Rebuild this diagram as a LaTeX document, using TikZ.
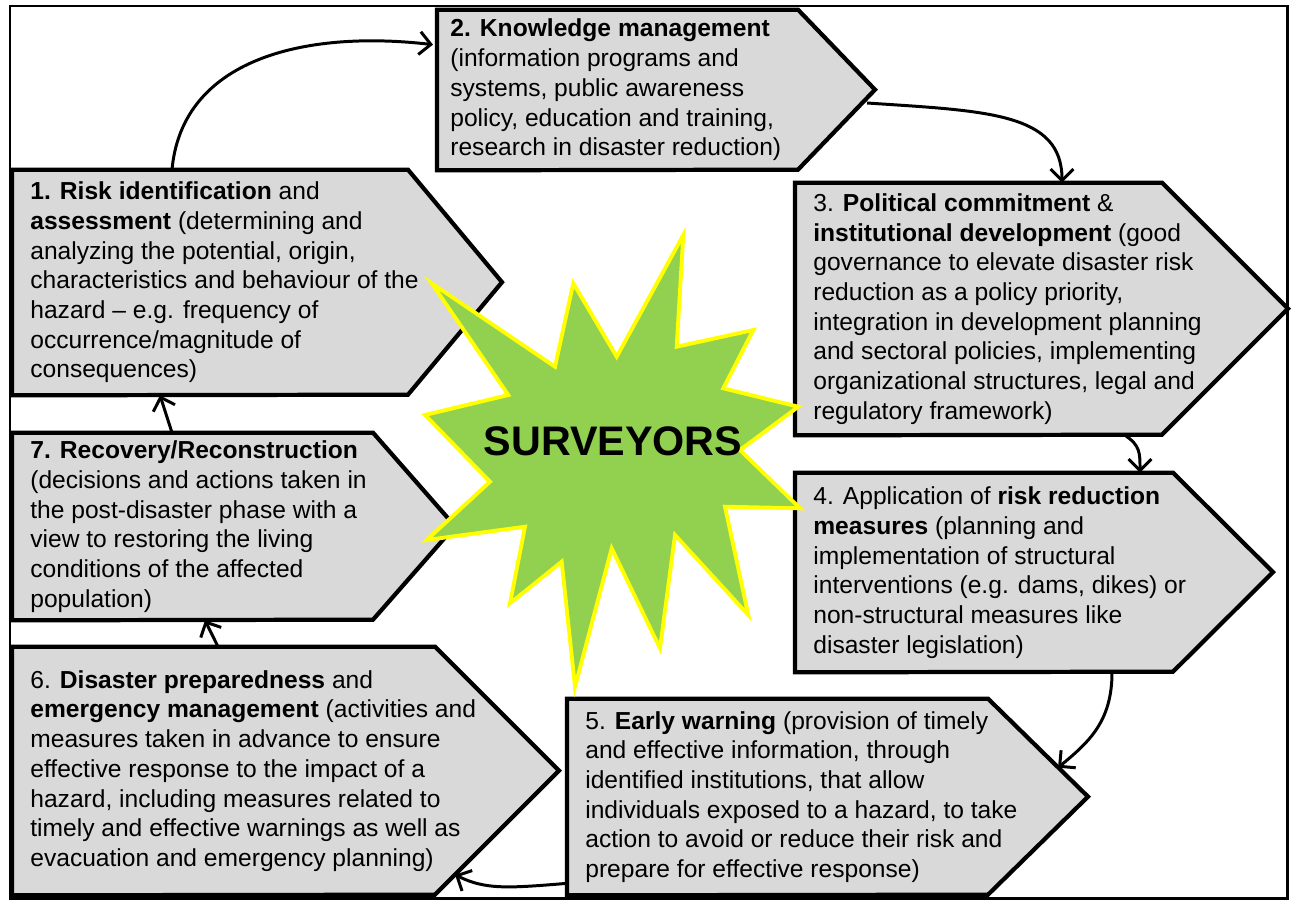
\documentclass[tikz,border=0pt]{standalone}
\usepackage{fontspec}
\setmainfont{Liberation Sans}
\usepackage{tikz}
\usetikzlibrary{arrows.meta,backgrounds,calc,positioning}
\definecolor{boxgray}{RGB}{217,217,217}
\definecolor{stargreen}{RGB}{146,208,80}
\definecolor{staryellow}{RGB}{255,255,0}
\tikzset{
  phase/.style={anchor=west, align=left, inner xsep=0.36cm, inner ysep=0pt,
    font=\fontsize{14}{16.9}\selectfont},
  phaseshape/.style={draw=black, line width=2.4pt, fill=boxgray, line join=miter},
  cyc/.style={line width=1.7pt, -{Straight Barb[length=6.5pt,width=13pt,line width=1.7pt]}},
  burst/.style={fill=stargreen, draw=staryellow, line width=2.2pt}
}

\begin{document}
\begin{tikzpicture}[x=0.02cm, y=-0.02cm]
\useasboundingbox (0,0) rectangle (1293,902);
\draw[line width=1.7pt] (10,6) rectangle (1287,898);

\node[phase, minimum height=4.5cm] (risk) at (12,282.5) {\textbf{1. Risk identification} and\\
\textbf{assessment} (determining and\\
analyzing the potential, origin,\\
characteristics and behaviour of the\\
hazard -- e.g. frequency of\\
occurrence/magnitude of\\
consequences)};
\node[phase, minimum height=3.2cm, inner xsep=0.26cm] (know) at (437,90) {\textbf{2. Knowledge management}\\
(information programs and\\
systems, public awareness\\
policy, education and training,\\
research in disaster reduction)};
\node[phase, minimum height=5.04cm] (politic) at (795,309) {3. \textbf{Political commitment} \&\\
\textbf{institutional development} (good\\
governance to elevate disaster risk\\
reduction as a policy priority,\\
integration in development planning\\
and sectoral policies, implementing\\
organizational structures, legal and\\
regulatory framework)};
\node[phase, minimum height=3.98cm] (apply) at (795,572.5) {4. Application of \textbf{risk reduction}\\
\textbf{measures} (planning and\\
implementation of structural\\
interventions (e.g. dams, dikes) or\\
non-structural measures like\\
disaster legislation)};
\node[phase, minimum height=3.92cm] (early) at (567,797) {5. \textbf{Early warning} (provision of timely\\
and effective information, through\\
identified institutions, that allow\\
individuals exposed to a hazard, to take\\
action to avoid or reduce their risk and\\
prepare for effective response)};
\node[phase, minimum height=4.96cm] (prepare) at (12,771) {6. \textbf{Disaster preparedness} and\\
\textbf{emergency management} (activities and\\
measures taken in advance to ensure\\
effective response to the impact of a\\
hazard, including measures related to\\
timely and effective warnings as well as\\
evacuation and emergency planning)};
\node[phase, minimum height=3.74cm] (recover) at (12,526.5) {\textbf{7. Recovery/Reconstruction}\\
(decisions and actions taken in\\
the post-disaster phase with a\\
view to restoring the living\\
conditions of the affected\\
population)};

\begin{scope}[on background layer]
\draw[phaseshape] (risk.north west) -- ++(396,0) -- ++(94,112.5) -- ++(-94,112.5) -- (risk.south west) -- cycle;
\draw[phaseshape] (know.north west) -- ++(361,0) -- ++(77,80) -- ++(-77,80) -- (know.south west) -- cycle;
\draw[phaseshape] (politic.north west) -- ++(367,0) -- ++(126,126) -- ++(-126,126) -- (politic.south west) -- cycle;
\draw[phaseshape] (apply.north west) -- ++(378,0) -- ++(100,99.5) -- ++(-100,99.5) -- (apply.south west) -- cycle;
\draw[phaseshape] (early.north west) -- ++(421,0) -- ++(100,98) -- ++(-100,98) -- (early.south west) -- cycle;
\draw[phaseshape] (prepare.north west) -- ++(423,0) -- ++(124,124) -- ++(-124,124) -- (prepare.south west) -- cycle;
\draw[phaseshape] (recover.north west) -- ++(361,0) -- ++(82,93.5) -- ++(-82,93.5) -- (recover.south west) -- cycle;
\end{scope}

\draw[cyc] ($(risk.north west)+(160,0)$) .. controls +(10,-110) and +(-130,-15) .. ($(know.north west)+(-4,35)$);
\draw[cyc] ($(know.west)+(430,13)$) .. controls +(120,8) and +(0,-70) .. ($(politic.north west)+(267,0)$);
\draw[cyc] ($(politic.south west)+(330,0)$) .. controls +(15,10) and +(0,-20) .. ($(apply.north west)+(345,0)$);
\draw[cyc] ($(apply.south west)+(317,0)$) .. controls +(0,50) and +(30,-25) .. ($(early.north west)+(491,69)$);
\draw[cyc] ($(early.south west)+(0,-12)$) .. controls +(-60,5) and +(30,15) .. ($(prepare.north west)+(443,228)$);
\draw[cyc] ($(prepare.north west)+(206,0)$) -- ($(recover.south west)+(193,0)$);
\draw[cyc] ($(recover.north west)+(160,0)$) -- ($(risk.south west)+(148,0)$);

\draw[burst] (431.7,283.3) -- (555,366.7) -- (573.3,283.3) -- (616.7,356.7) -- (683.3,235)
  -- (676.7,346.7) -- (753.3,330) -- (723.3,388.3) -- (798.3,406.7) -- (740,450)
  -- (800,508.3) -- (725,506.7) -- (748.3,615) -- (675,535) -- (660,648.3)
  -- (611.7,548.3) -- (575,686.7) -- (561.7,561.7) -- (510,603.3) -- (525,526.7)
  -- (426.7,540) -- (490,481.7) -- (425,415) -- (508.3,395) -- cycle;
\node[font=\fontsize{23.5}{24}\selectfont\bfseries] (surv) at (613,441.5) {SURVEYORS};
\end{tikzpicture}
\end{document}
